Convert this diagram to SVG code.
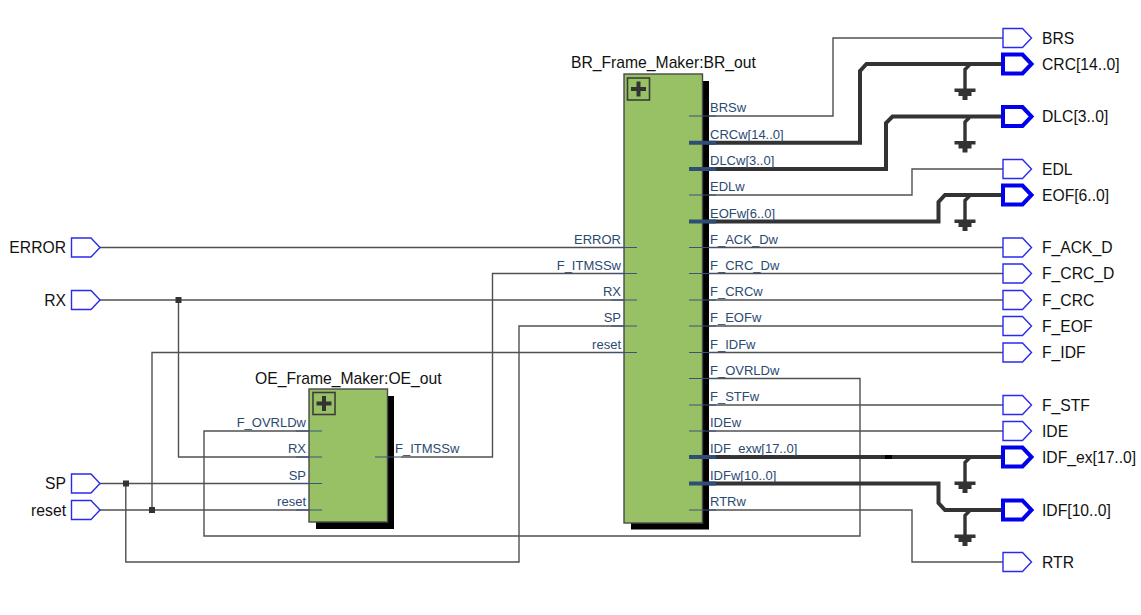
<svg xmlns="http://www.w3.org/2000/svg" xmlns:xlink="http://www.w3.org/1999/xlink" width="1141" height="615" viewBox="0 0 1141 615">
<style>
text{font-family:"Liberation Sans",Arial,Helvetica,sans-serif}
.lbl{font-size:15.7px;fill:#111}
.p{font-size:13px;fill:#2b4a72}
.e{text-anchor:end}
.w{fill:none;stroke:#505050;stroke-width:1.4}
.b{fill:none;stroke:#333;stroke-width:4}
.g{fill:none;stroke:#333;stroke-width:3.4}
.s{stroke:#37557c;stroke-width:1.2;fill:none}
.sb{stroke:#2e4d77;stroke-width:4;fill:none}
.pin{fill:#fff;stroke:#2a2aee;stroke-width:1.4}
.pinb{fill:#fff;stroke:#0000ee;stroke-width:4}
.body{fill:#98c065;stroke:#4a4a4a;stroke-width:1.4}
.sh{fill:#000}
.ic{fill:none;stroke:#3c3c3c;stroke-width:1.6}
.pl{fill:#333}
.j{fill:#333}
</style>
<defs>
<path id="pinshape" d="M0 -9.500H19.500L28.500 0L19.500 9.500H0Z"/>
<g id="gnd"><path class="g" d="M4.500 1L0 5.500V25"/><path class="pl" d="M-10.500 24.500H10.500V28H-10.500ZM-6.500 28H6.500V32H-6.500ZM-2.500 32H2.500V36H-2.500Z"/></g>
<g id="plus"><rect class="ic" x="0" y="0" width="22" height="22"/><path class="pl" d="M9 3.500H13V9H18.500V13H13V18.500H9V13H3.500V9H9Z"/></g>
</defs>

<g id="connectors">
<path class="w" d="M100 247.500H637"/>
<path class="w" d="M401 457H492.500V273.500H637"/>
<path class="w" d="M100 300H637"/>
<path class="w" d="M178.500 300V457H322"/>
<path class="w" d="M100 483.500H322"/>
<path class="w" d="M125.800 483.500V562H519V326H637"/>
<path class="w" d="M100 510H322"/>
<path class="w" d="M152 510V352.500H637"/>
<path class="w" d="M689 378.500H860V536H204V431H322"/>
<path class="w" d="M689 116H833V38H1003"/>
<path class="b" d="M689 142.700H860V71L866.500 64H1003"/>
<path class="b" d="M689 169H886V123L892.500 116.500H1003"/>
<path class="w" d="M689 195H912V169H1003"/>
<path class="b" d="M689 221.500H938.500V202L945 195H1003"/>
<path class="w" d="M689 247.500H1003"/>
<path class="w" d="M689 273.500H1003"/>
<path class="w" d="M689 300H1003"/>
<path class="w" d="M689 326H1003"/>
<path class="w" d="M689 352.500H1003"/>
<path class="w" d="M689 405H1003"/>
<path class="w" d="M689 431H1003"/>
<path class="b" d="M689 457H1003"/>
<path d="M885 455H892V459H885Z" fill="#000"/>
<path class="b" d="M689 483.500H938.500V503L945 510H1003"/>
<path class="w" d="M689 510H912V562H1003"/>
<use xlink:href="#gnd" href="#gnd" x="965" y="64"/>
<use xlink:href="#gnd" href="#gnd" x="965" y="116.500"/>
<use xlink:href="#gnd" href="#gnd" x="965" y="195"/>
<use xlink:href="#gnd" href="#gnd" x="965" y="457"/>
<use xlink:href="#gnd" href="#gnd" x="965" y="510"/>
<rect class="j" x="175.500" y="297" width="6" height="6"/>
<rect class="j" x="123" y="480.500" width="6" height="6"/>
<rect class="j" x="149" y="507" width="6" height="6"/>
</g>

<g id="BR_out">
<text class="lbl" x="571" y="68">BR_Frame_Maker:BR_out</text>
<rect class="sh" x="631" y="81" width="78" height="448.500"/>
<rect class="body" x="624" y="74" width="78.500" height="449"/>
<use xlink:href="#plus" href="#plus" x="627.500" y="78"/>
<g class="s"><path d="M611 247.500H637M611 273.500H637M611 300H637M611 326H637M611 352.500H637M689 116H716M689 195H716M689 247.500H716M689 273.500H716M689 300H716M689 326H716M689 352.500H716M689 378.500H716M689 405H716M689 431H716M689 510H716"/></g>
<path class="sb" d="M689 142.700H716M689 169H716M689 221.500H716M689 457H716M689 483.500H716"/>
<g class="p">
<text class="e" x="621" y="243.500">ERROR</text>
<text class="e" x="621" y="269.500">F_ITMSSw</text>
<text class="e" x="621" y="296">RX</text>
<text class="e" x="621" y="322">SP</text>
<text class="e" x="621" y="348.500">reset</text>
<text x="710" y="112">BRSw</text>
<text x="710" y="138.500">CRCw[14..0]</text>
<text x="710" y="165">DLCw[3..0]</text>
<text x="710" y="191">EDLw</text>
<text x="710" y="217.500">EOFw[6..0]</text>
<text x="710" y="243.500">F_ACK_Dw</text>
<text x="710" y="269.500">F_CRC_Dw</text>
<text x="710" y="296">F_CRCw</text>
<text x="710" y="322">F_EOFw</text>
<text x="710" y="348.500">F_IDFw</text>
<text x="710" y="374.500">F_OVRLDw</text>
<text x="710" y="401">F_STFw</text>
<text x="710" y="427">IDEw</text>
<text x="710" y="453">IDF_exw[17..0]</text>
<text x="710" y="479.500">IDFw[10..0]</text>
<text x="710" y="506">RTRw</text>
</g>
</g>

<g id="OE_out">
<text class="lbl" x="255" y="384">OE_Frame_Maker:OE_out</text>
<rect class="sh" x="316" y="396" width="78" height="133"/>
<rect class="body" x="309" y="389" width="78.500" height="133"/>
<use xlink:href="#plus" href="#plus" x="313" y="392.500"/>
<path class="s" d="M296 431H322M296 457H322M296 483.500H322M296 510H322M375 457H401"/>
<g class="p">
<text class="e" x="306" y="427">F_OVRLDw</text>
<text class="e" x="306" y="453">RX</text>
<text class="e" x="306" y="479.500">SP</text>
<text class="e" x="306" y="506">reset</text>
<text x="395" y="453">F_ITMSSw</text>
</g>
</g>

<g id="in_ERROR"><use xlink:href="#pinshape" href="#pinshape" class="pin" x="71.500" y="247.500"/><text class="lbl e" x="66" y="253">ERROR</text></g>
<g id="in_RX"><use xlink:href="#pinshape" href="#pinshape" class="pin" x="71.500" y="300"/><text class="lbl e" x="66" y="305.500">RX</text></g>
<g id="in_SP"><use xlink:href="#pinshape" href="#pinshape" class="pin" x="71.500" y="483.500"/><text class="lbl e" x="66" y="489">SP</text></g>
<g id="in_reset"><use xlink:href="#pinshape" href="#pinshape" class="pin" x="71.500" y="510"/><text class="lbl e" x="66" y="515.500">reset</text></g>

<g id="out_BRS"><use xlink:href="#pinshape" href="#pinshape" class="pin" x="1003" y="38"/><text class="lbl" x="1042" y="43.500">BRS</text></g>
<g id="out_CRC"><use xlink:href="#pinshape" href="#pinshape" class="pinb" x="1003" y="64"/><text class="lbl" x="1042" y="69.500">CRC[14..0]</text></g>
<g id="out_DLC"><use xlink:href="#pinshape" href="#pinshape" class="pinb" x="1003" y="116.500"/><text class="lbl" x="1042" y="122">DLC[3..0]</text></g>
<g id="out_EDL"><use xlink:href="#pinshape" href="#pinshape" class="pin" x="1003" y="169"/><text class="lbl" x="1042" y="174.500">EDL</text></g>
<g id="out_EOF"><use xlink:href="#pinshape" href="#pinshape" class="pinb" x="1003" y="195"/><text class="lbl" x="1042" y="200.500">EOF[6..0]</text></g>
<g id="out_F_ACK_D"><use xlink:href="#pinshape" href="#pinshape" class="pin" x="1003" y="247.500"/><text class="lbl" x="1042" y="253">F_ACK_D</text></g>
<g id="out_F_CRC_D"><use xlink:href="#pinshape" href="#pinshape" class="pin" x="1003" y="273.500"/><text class="lbl" x="1042" y="279">F_CRC_D</text></g>
<g id="out_F_CRC"><use xlink:href="#pinshape" href="#pinshape" class="pin" x="1003" y="300"/><text class="lbl" x="1042" y="305.500">F_CRC</text></g>
<g id="out_F_EOF"><use xlink:href="#pinshape" href="#pinshape" class="pin" x="1003" y="326"/><text class="lbl" x="1042" y="331.500">F_EOF</text></g>
<g id="out_F_IDF"><use xlink:href="#pinshape" href="#pinshape" class="pin" x="1003" y="352.500"/><text class="lbl" x="1042" y="358">F_IDF</text></g>
<g id="out_F_STF"><use xlink:href="#pinshape" href="#pinshape" class="pin" x="1003" y="405"/><text class="lbl" x="1042" y="410.500">F_STF</text></g>
<g id="out_IDE"><use xlink:href="#pinshape" href="#pinshape" class="pin" x="1003" y="431"/><text class="lbl" x="1042" y="436.500">IDE</text></g>
<g id="out_IDF_ex"><use xlink:href="#pinshape" href="#pinshape" class="pinb" x="1003" y="457"/><text class="lbl" x="1042" y="462.500">IDF_ex[17..0]</text></g>
<g id="out_IDF"><use xlink:href="#pinshape" href="#pinshape" class="pinb" x="1003" y="510"/><text class="lbl" x="1042" y="515.500">IDF[10..0]</text></g>
<g id="out_RTR"><use xlink:href="#pinshape" href="#pinshape" class="pin" x="1003" y="562"/><text class="lbl" x="1042" y="567.500">RTR</text></g>
</svg>
